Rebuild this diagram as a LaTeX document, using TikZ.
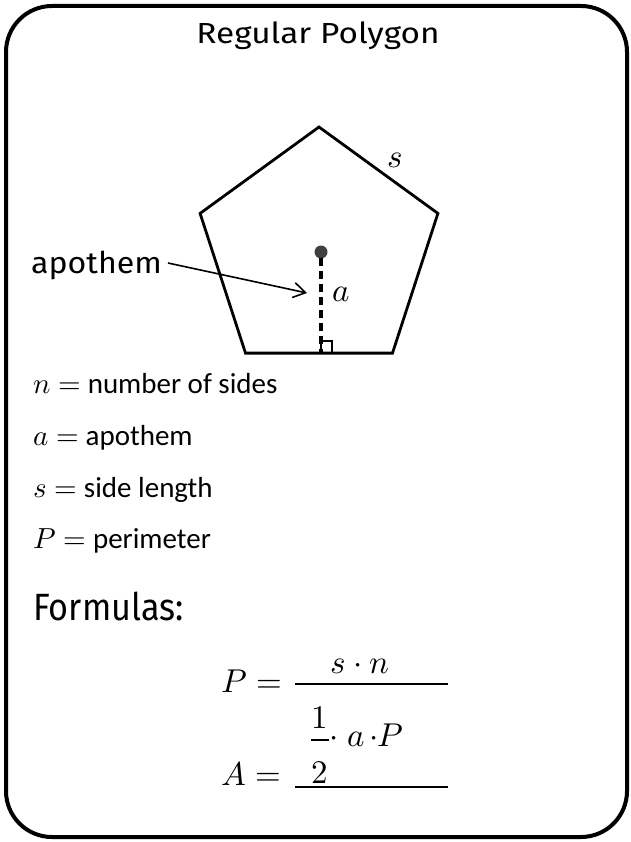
\documentclass[tikz,border=0pt]{standalone}
\usepackage{fontspec}
\usepackage{unicode-math}
\setmainfont{Carlito}
\setmathfont{Latin Modern Math}
\newfontfamily\hand{Fira Sans}
\usetikzlibrary{arrows.meta}
\tikzset{
  frame/.style={line width=4pt, rounded corners=46pt},
  poly/.style={line width=2.8pt, line join=miter},
  deflabel/.style={font=\fontsize{29}{33}\selectfont, inner sep=0pt, anchor=base west},
  mathbig/.style={font=\fontsize{33}{37}\selectfont, inner sep=0pt},
  blank/.style={line width=1.8pt},
}
\begin{document}
\begin{tikzpicture}[x=1pt,y=-1pt]
\useasboundingbox (0,0) rectangle (630,842);
\draw[frame] (6,6) rectangle (627,837);

% title
\node[font=\hand\fontsize{29}{32}\selectfont, inner sep=0pt, anchor=base] (title) at (318,44) {\scalebox{1.15}[1]{Regular Polygon}};

% pentagon
\coordinate (ctr) at (319,252);
\coordinate (v1) at (319,127);
\coordinate (v2) at (437.9,213.4);
\coordinate (v3) at (392.5,353.1);
\coordinate (v4) at (245.5,353.1);
\coordinate (v5) at (200.1,213.4);
\draw[poly] (v1) -- (v2) -- (v3) -- (v4) -- (v5) -- cycle;
\node[mathbig] (slab) at (395,160) {$s$};

% apothem
\fill[black!75] (321,252) circle (6.5pt);
\coordinate (afoot) at (321,353.1);
\coordinate (atop) at (321,258);
\draw[line width=3.5pt, dash pattern=on 8pt off 5pt] (atop) -- (afoot);
\draw[line width=1.4pt] (321,341) rectangle (332,353.1);
\node[mathbig] (alab) at (341,294) {$a$};

\node[font=\hand\fontsize{30}{34}\selectfont, inner sep=0pt, anchor=base west] (apo) at (31,273) {\scalebox{1.07}[1]{apothem}};
\coordinate (arrtip) at (307,293);
\draw[line width=1.6pt, -{Straight Barb[length=12pt,width=15pt,line width=1.6pt]}] (168,263) -- (arrtip);

% definitions
\node[deflabel] (d1) at (33,393) {$n =$ number of sides};
\node[deflabel] (d2) at (33,445) {$a =$ apothem};
\node[deflabel] (d3) at (33,497) {$s =$ side length};
\node[deflabel] (d4) at (33,548) {$P =$ perimeter};

% formulas
\node[font=\hand\fontsize{38}{42}\selectfont, inner sep=0pt, anchor=base west] (form) at (33,620) {\scalebox{0.9}[1]{Formulas:}};

\node[mathbig, anchor=base west] (peq) at (221,692) {$P =$};
\node[mathbig, anchor=base] (sn) at (360,673) {$s\cdot n$};
\draw[blank] (295,684) -- (448,684);

\node[mathbig, anchor=base west] (aeq) at (221,785) {$A =$};
\node[mathbig, anchor=base] (one) at (320,728) {$1$};
\node[mathbig, anchor=base] (two) at (320,783) {$2$};
\draw[line width=1.6pt] (311,740) -- (329,740);
\node[mathbig, anchor=base] (dot1) at (334,746) {$\cdot$};
\node[mathbig, anchor=base] (aa) at (356,746) {$a$};
\node[mathbig, anchor=base] (dot2) at (374,746) {$\cdot$};
\node[mathbig, anchor=base] (pp) at (390,746) {$P$};
\draw[blank] (295,787) -- (448,787);
\end{tikzpicture}
\end{document}
